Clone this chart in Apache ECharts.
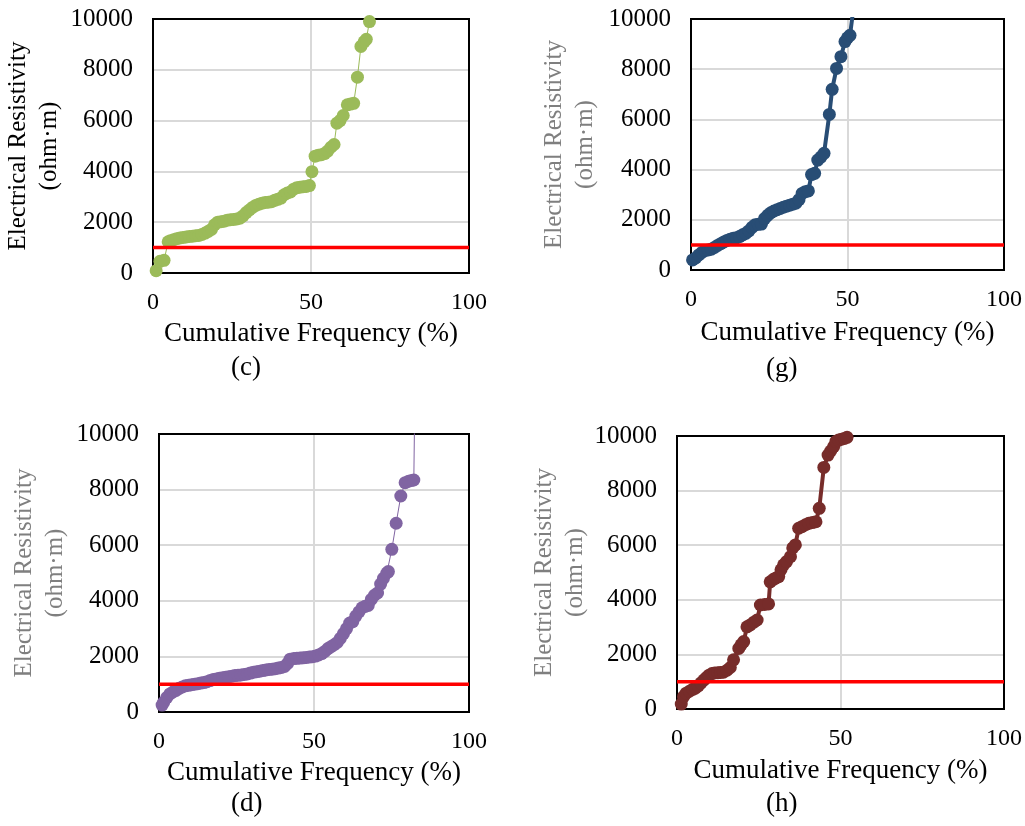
<!DOCTYPE html>
<html>
<head>
<meta charset="utf-8">
<title>Electrical resistivity - cumulative frequency</title>
<script src="https://cdn.jsdelivr.net/npm/echarts@6/dist/echarts.min.js"></script>
<style>
  html, body { margin: 0; padding: 0; background: #fff; }
  #chart { width: 1025px; height: 826px; }
</style>
</head>
<body>
<div id="chart"></div>
<script>
// (c)
const cFreq = [1, 2.2, 3.5, 4.8, 5.5, 6.5, 7.5, 8.5, 9.5, 10.5, 11.5, 12.5, 13.5, 14.5, 15.5, 16.5, 17.5, 18.5, 19.5, 20.5,
  21.5, 22.5, 23.5, 24.5, 25.5, 26.5, 27.5, 28.5, 29.5, 30.5, 31.5, 32.5, 33.5, 34.5, 35.5, 36.5, 37.5, 38.5, 39.5, 40.5,
  41.5, 42.5, 43.5, 44.5, 45.5, 46.5, 47.5, 48.5, 49.5, 50.3, 51.3, 52.3, 53.3, 54.3, 55.3, 56.3, 57.3, 58.2, 59.2, 60.2,
  61.5, 62.5, 63.5, 64.7, 65.8, 66.8, 67.5, 68.5]
const cRes = [90, 460, 500, 1230, 1270, 1310, 1350, 1380, 1400, 1420, 1440, 1450, 1470, 1480, 1520, 1570, 1640, 1720, 1900, 2000,
  2020, 2040, 2080, 2100, 2110, 2130, 2160, 2250, 2380, 2480, 2580, 2660, 2710, 2750, 2780, 2790, 2810, 2860, 2900, 2950,
  3080, 3150, 3190, 3300, 3360, 3380, 3400, 3410, 3440, 3990, 4600, 4640, 4660, 4700, 4800, 4950, 5060, 5900, 6000, 6200,
  6620, 6650, 6680, 7710, 8920, 9100, 9200, 9900]

// (g)
const gFreq = [0.5, 1.5, 2.5, 3.5, 4.5, 5.5, 6.5, 7.5, 8.5, 9.5, 10.5, 11.5, 12.5, 13.5, 14.5, 15.5, 16.5, 17.5, 18.5, 19.5,
  20.5, 21.5, 22.5, 23.5, 24.5, 25.5, 26.5, 27.5, 28.5, 29.5, 30.5, 31.5, 32.5, 33.5, 34.5, 35.5, 36.5, 37.5, 38.5, 39.5,
  40.5, 41.5, 42.5, 44.2, 45.1, 46.5, 47.9, 49.2, 50, 50.8, 53]
const gRes = [400, 480, 600, 700, 780, 800, 830, 900, 980, 1050, 1120, 1180, 1230, 1260, 1280, 1330, 1400, 1460, 1560, 1700,
  1800, 1820, 1830, 2050, 2180, 2280, 2350, 2400, 2450, 2500, 2540, 2580, 2620, 2660, 2800, 3050, 3120, 3150, 3800, 3850,
  4380, 4500, 4650, 6200, 7200, 8030, 8500, 9100, 9250, 9350, 11500]

// (d)
const dFreq = [1, 1.5, 2.5, 3.5, 4.5, 5.5, 6.5, 7.5, 8.5, 9.5, 10.5, 11.5, 12.5, 13.5, 14.5, 15.5, 16.5, 17.5, 18.5, 19.5,
  20.5, 21.5, 22.5, 23.5, 24.5, 25.5, 26.5, 27.5, 28.5, 29.5, 30.5, 31.5, 32.5, 33.5, 34.5, 35.5, 36.5, 37.5, 38.5, 39.5,
  40.5, 41.5, 42.3, 43.5, 44.5, 45.5, 46.5, 47.5, 48.5, 49.5, 50.5, 51.5, 52.5, 53.5, 54.5, 55.5, 56.5, 57.5, 58.5, 59.5,
  60.5, 61.5, 62.5, 63.5, 64.5, 65.5, 66.5, 67.5, 68.5, 69.5, 70.5, 71.5, 72.4, 73.5, 74, 75.1, 76.5, 78, 79.4, 80.5,
  81.5, 82.2, 82.6]
const dRes = [250, 350, 520, 650, 720, 780, 850, 900, 940, 960, 980, 1000, 1020, 1040, 1060, 1090, 1130, 1170, 1190, 1210,
  1230, 1250, 1270, 1290, 1310, 1320, 1330, 1350, 1370, 1400, 1430, 1450, 1470, 1490, 1510, 1530, 1540, 1560, 1580, 1600,
  1640, 1750, 1900, 1920, 1930, 1940, 1950, 1960, 1975, 1990, 2010, 2050, 2100, 2180, 2280, 2350, 2420, 2500, 2650, 2820,
  3000, 3200, 3250, 3450, 3600, 3750, 3800, 3830, 4050, 4200, 4280, 4600, 4810, 5000, 5050, 5850, 6790, 7770, 8250, 8300,
  8330, 8345, 12000]

// (h)
const hFreq = [1.3, 2, 2.8, 3.8, 4.8, 5.6, 6.5, 7.3, 8.2, 9, 9.8, 10.7, 11.5, 12.5, 13.3, 14.2, 15.3, 16.3, 17.3, 18.9,
  19.6, 20.4, 21.4, 22.4, 23.5, 24.5, 25.5, 26.8, 28, 28.5, 29.5, 30.3, 31.1, 31.8, 32.6, 33.5, 34.7, 35.4, 36.2, 37.2,
  38.2, 39.3, 40.3, 41.4, 42.5, 43.5, 44.9, 46.2, 47, 47.9, 48.6, 49.4, 50.3, 51.2, 52]
const hRes = [180, 450, 580, 650, 720, 760, 850, 950, 1060, 1150, 1240, 1300, 1320, 1330, 1340, 1350, 1420, 1520, 1800, 2220,
  2350, 2470, 3010, 3080, 3180, 3260, 3810, 3830, 3850, 4660, 4750, 4800, 4850, 5100, 5280, 5400, 5580, 5900, 6010, 6620,
  6680, 6750, 6800, 6830, 6860, 7350, 8850, 9300, 9450, 9610, 9800, 9850, 9880, 9910, 9950]

// 1000 ohm·m reference line
const threshold = 1000
const thresholdFreq = [0, 100]

const FONT = "'Liberation Serif', 'Times New Roman', serif"

const zip = (xs, ys) => xs.map((x, i) => [x, ys[i]])

const panels = [
  { label: '(c)', freq: cFreq, res: cRes, color: '#9bbb59', lineWidth: 1, xGap: 47,
    box: { left: 153, top: 19, width: 316, height: 254 }, nameGap: 88, nameColor: '#000', caption: [248, 369] },
  { label: '(g)', freq: gFreq, res: gRes, color: '#284d75', lineWidth: 4, xGap: 49,
    box: { left: 691, top: 19, width: 313, height: 251 }, nameGap: 90, nameColor: '#7f7f7f', caption: [783, 370] },
  { label: '(d)', freq: dFreq, res: dRes, color: '#8064a2', lineWidth: 1, xGap: 47,
    box: { left: 159, top: 434, width: 310, height: 278 }, nameGap: 88, nameColor: '#7f7f7f', caption: [248, 805] },
  { label: '(h)', freq: hFreq, res: hRes, color: '#772c2a', lineWidth: 4, xGap: 48,
    box: { left: 677, top: 436, width: 327, height: 273 }, nameGap: 85, nameColor: '#7f7f7f', caption: [783, 805] }
]

const chart = echarts.init(document.getElementById('chart'))

const grid = [], xAxis = [], yAxis = [], series = [], graphic = []

panels.forEach((p, i) => {
  // black frame round the plot area, drawn above the grid lines
  grid.push(Object.assign({ show: true, borderColor: '#000', borderWidth: 2, backgroundColor: 'transparent', z: 1, containLabel: false }, p.box))
  xAxis.push({
    type: 'value', gridIndex: i, min: 0, max: 100, interval: 50,
    name: 'Cumulative Frequency (%)', nameLocation: 'middle', nameGap: p.xGap,
    nameTextStyle: { fontFamily: FONT, fontSize: 27, fontWeight: 'normal', color: '#000' },
    axisLine: { show: false },
    axisTick: { show: false },
    axisLabel: { fontFamily: FONT, fontSize: 24, color: '#000', margin: 18 },
    splitLine: { show: true, showMinLine: false, showMaxLine: false, lineStyle: { color: '#d9d9d9', width: 2 } }
  })
  yAxis.push({
    type: 'value', gridIndex: i, min: 0, max: 10000, interval: 2000,
    name: 'Electrical Resistivity\n(ohm·m)', nameLocation: 'middle', nameGap: p.nameGap,
    nameTextStyle: { fontFamily: FONT, fontSize: 25, fontWeight: 'normal', color: p.nameColor, lineHeight: 31 },
    axisLine: { show: false },
    axisTick: { show: false },
    axisLabel: { fontFamily: FONT, fontSize: 25, color: '#000', margin: 20, formatter: v => String(v) },
    splitLine: { show: true, showMinLine: false, showMaxLine: false, lineStyle: { color: '#d9d9d9', width: 2 } }
  })
  series.push({
    type: 'line', xAxisIndex: i, yAxisIndex: i,
    data: zip(p.freq, p.res),
    symbol: 'circle', symbolSize: 13, showAllSymbol: true,
    itemStyle: { color: p.color },
    lineStyle: { color: p.color, width: p.lineWidth },
    clip: true, z: 3
  })
  series.push({
    type: 'line', xAxisIndex: i, yAxisIndex: i,
    data: zip(thresholdFreq, [threshold, threshold]),
    symbol: 'none',
    lineStyle: { color: '#ff0000', width: 3.5 },
    z: 5
  })
  graphic.push({
    type: 'text', left: p.caption[0] - 17, top: p.caption[1] - 15,
    style: { text: p.label, font: '27px ' + FONT, fill: '#000' }
  })
})

chart.setOption({
  animation: false,
  backgroundColor: '#fff',
  grid: grid,
  xAxis: xAxis,
  yAxis: yAxis,
  series: series,
  graphic: graphic
})
</script>
</body>
</html>
